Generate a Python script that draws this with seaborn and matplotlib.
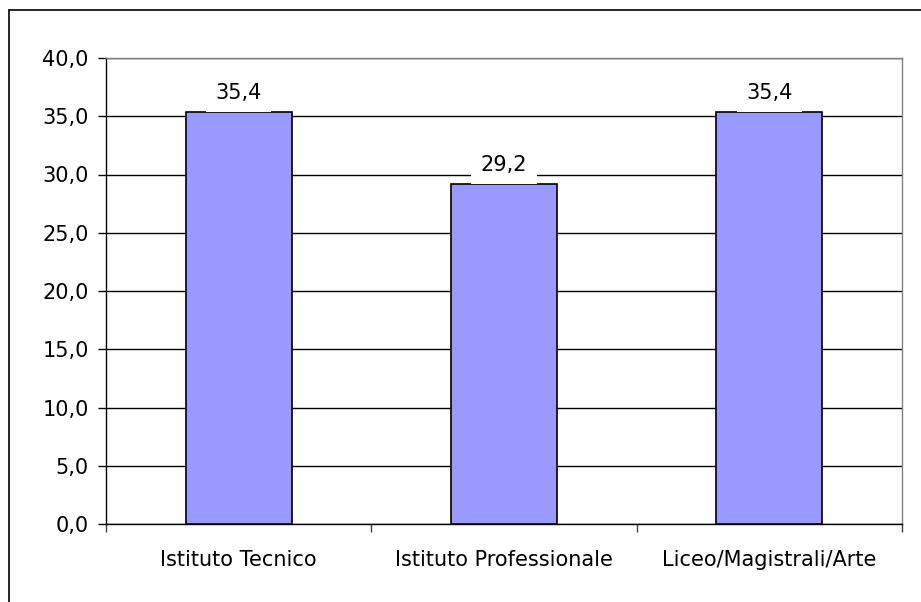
import matplotlib
matplotlib.use("Agg")
import matplotlib.pyplot as plt
import seaborn as sns
import pandas as pd
from matplotlib.ticker import FuncFormatter, FixedLocator
from matplotlib.lines import Line2D

categories = ["Istituto Tecnico", "Istituto Professionale", "Liceo/Magistrali/Arte"]
values = [35.4, 29.2, 35.4]
value_labels = ["35,4", "29,2", "35,4"]

sns.set_theme(style="white")
plt.rcParams['font.family'] = ['DejaVu Sans']
plt.rcParams['text.color'] = 'black'
plt.rcParams['xtick.color'] = 'black'
plt.rcParams['ytick.color'] = 'black'
plt.rcParams['xtick.labelcolor'] = 'black'
plt.rcParams['ytick.labelcolor'] = 'black'

FS = 15

df = pd.DataFrame({"cat": categories, "val": values})

fig = plt.figure(figsize=(9.21, 6.02), dpi=100)
ax = fig.add_axes([106/921, 1-524/602, (902-106)/921, (524-58)/602])

sns.barplot(data=df, x="cat", y="val", ax=ax, color="#9999FF", width=0.4,
            edgecolor="black", linewidth=1.2, saturation=1, zorder=3)

ax.set_ylim(0, 40)
ax.set_xlim(-0.5, 2.5)
ax.set_yticks([0, 5, 10, 15, 20, 25, 30, 35, 40])
ax.yaxis.set_major_formatter(FuncFormatter(lambda v, p: f"{v:.1f}".replace(".", ",")))
ax.yaxis.grid(True, color="black", linewidth=1.0, zorder=0)
ax.set_axisbelow(True)
ax.set_xlabel("")
ax.set_ylabel("")

# category ticks at boundaries
ax.xaxis.set_major_locator(FixedLocator([-0.5, 0.5, 1.5, 2.5]))
ax.xaxis.set_minor_locator(FixedLocator([0, 1, 2]))
ax.set_xticklabels([])
ax.set_xticklabels(categories, minor=True)
ax.tick_params(axis="x", which="major", length=6, width=1, color="#404040", direction="out", bottom=True)
ax.tick_params(axis="x", which="minor", length=0, labelsize=FS, pad=19, labelcolor="black")
ax.tick_params(axis="y", length=6, width=1, color="black", direction="out", left=True,
               labelsize=FS, pad=6.5, labelcolor="black")

for s in ["left", "bottom"]:
    ax.spines[s].set_color("black")
    ax.spines[s].set_linewidth(1.0)
for s in ["top", "right"]:
    ax.spines[s].set_color("#808080")
    ax.spines[s].set_linewidth(1.0)

for i, (v, lab) in enumerate(zip(values, value_labels)):
    ax.annotate(lab, xy=(i, v), xytext=(0, 9.4), textcoords="offset points",
                ha="center", va="baseline", fontsize=FS, zorder=5, color="black",
                bbox=dict(boxstyle="square,pad=0.46", facecolor="white", edgecolor="none"))

# outer chart border (left and top visible)
fig.add_artist(Line2D([9/921, 9/921], [0, 1-9.5/602], transform=fig.transFigure, color="black", linewidth=1.2))
fig.add_artist(Line2D([9/921, 1], [1-9.5/602, 1-9.5/602], transform=fig.transFigure, color="black", linewidth=1.2))

fig.savefig("out.png", dpi=100)
